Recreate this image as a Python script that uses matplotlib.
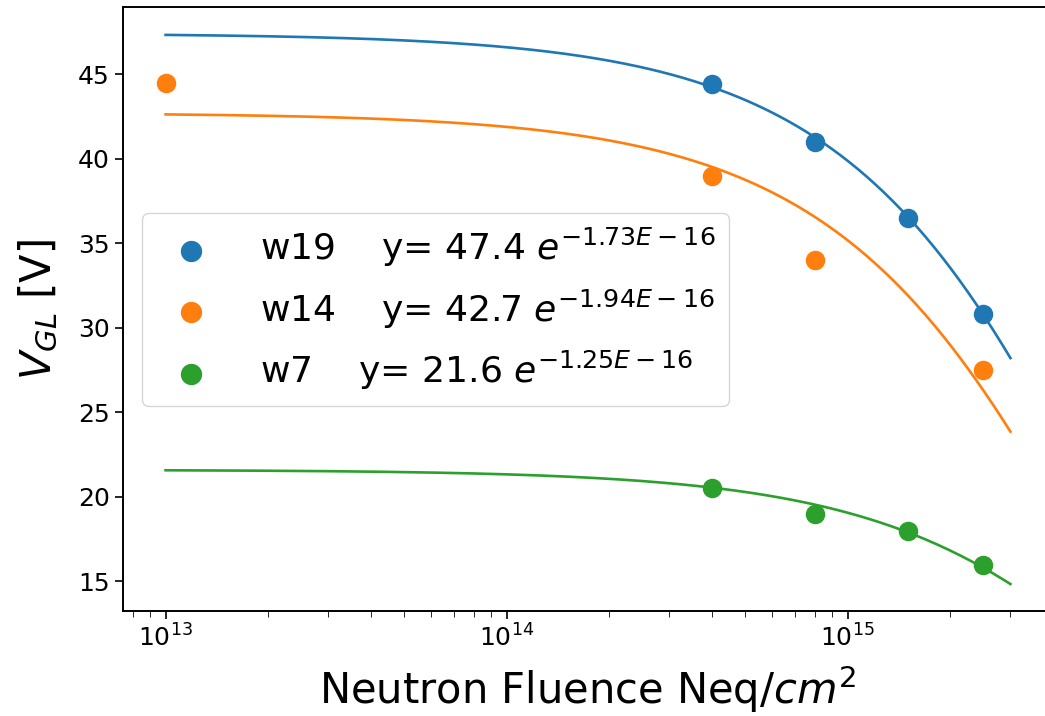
import numpy as np
import matplotlib
matplotlib.use("Agg")
import matplotlib.pyplot as plt

# measured points
w19_x = [4e14, 8e14, 1.5e15, 2.5e15]
w19_y = [44.4, 41.0, 36.5, 30.8]
w14_x = [1e13, 4e14, 8e14, 2.5e15]
w14_y = [44.5, 39.0, 34.0, 27.5]
w7_x = [4e14, 8e14, 1.5e15, 2.5e15]
w7_y = [20.5, 19.0, 18.0, 16.0]

# fit parameters shown in the legend: y = A exp(-k x)
names = ["w19", "w14", "w7"]
amps = [47.4, 42.7, 21.6]
rates = [1.73e-16, 1.94e-16, 1.25e-16]
fit_range = [1e13, 3e15]

colors = ["#1f77b4", "#ff7f0e", "#2ca02c"]

fig = plt.figure(figsize=(10.45, 7.16), dpi=100)
ax = fig.add_axes([0.1177, 0.1466, 0.89, 0.8432])

xs = [w19_x, w14_x, w7_x]
ys = [w19_y, w14_y, w7_y]
xfit = np.logspace(np.log10(fit_range[0]), np.log10(fit_range[1]), 300)

for i in range(3):
    mant, ex = f"{rates[i]:.2E}".split("E")
    lab = f"{names[i]}    y= {amps[i]} $e^{{-{mant}E{int(ex)}}}$"
    ax.scatter(xs[i], ys[i], s=170, color=colors[i], label=lab, zorder=3)
    ax.plot(xfit, amps[i]*np.exp(-rates[i]*xfit), color=colors[i], lw=1.9)

ax.set_xscale("log")
ax.set_xlim(7.5e12, 4e15)
ax.set_ylim(13.25, 48.95)
ax.set_yticks([15, 20, 25, 30, 35, 40, 45])
ax.tick_params(axis="both", labelsize=18, length=6, width=1.2)
ax.tick_params(axis="x", which="minor", length=4)
for s in ax.spines.values():
    s.set_linewidth(1.4)
ax.spines["right"].set_visible(False)

ax.set_xlabel("Neutron Fluence Neq/$cm^2$", fontsize=30, labelpad=9)
ax.set_ylabel("$V_{GL}$ [V]", fontsize=30, labelpad=13)

ax.legend(loc="upper left", bbox_to_anchor=(0.02, 0.66), borderaxespad=0,
          fontsize=26, handletextpad=0.9, labelspacing=0.5, borderpad=0.38,
          scatterpoints=1, markerscale=1.1)

fig.savefig("out.png", dpi=100)
